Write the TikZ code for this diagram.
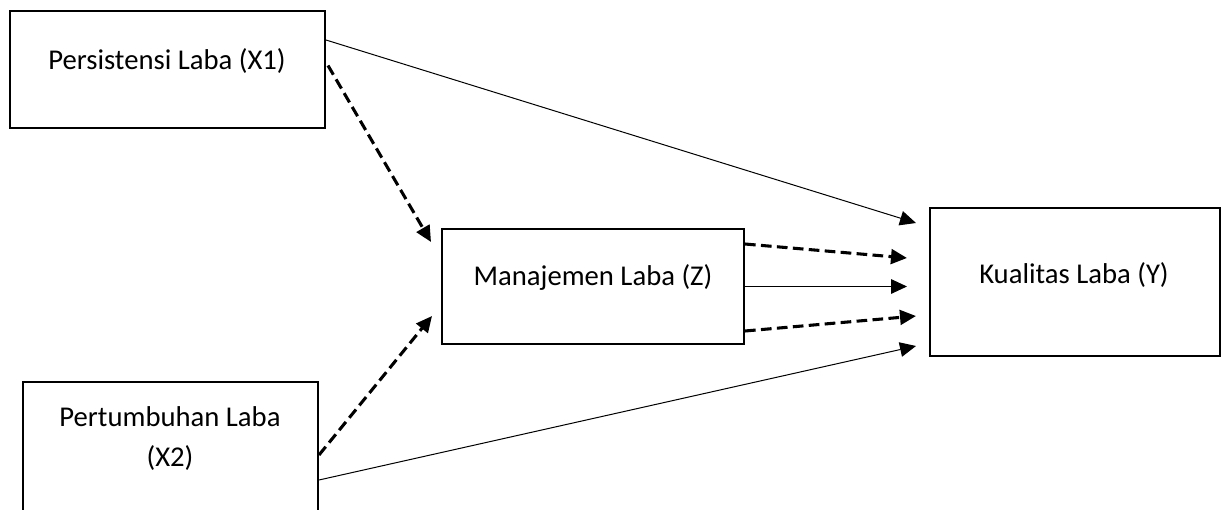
\documentclass[tikz,border=0pt]{standalone}
\usepackage{fontspec}
\setmainfont{Carlito}
\usetikzlibrary{calc,arrows.meta}
\tikzset{
  box/.style={draw=black, line width=1.5pt, fill=white, inner sep=0pt},
  lbl/.style={font=\fontsize{21.5}{30}\selectfont, inner sep=0pt, anchor=base, align=center},
  direct/.style={line width=0.75pt, -{Triangle[length=12pt,width=11pt]}},
  mediated/.style={line width=2.3pt, dash pattern=on 8pt off 4pt, -{Triangle[length=12pt,width=11pt]}},
}
\begin{document}
\begin{tikzpicture}[x=0.75pt, y=-0.75pt]
  \useasboundingbox (0,0) rectangle (1222,510);
  \clip (0,0) rectangle (1222,510);

  % variable boxes
  \node[box, minimum width=315*0.75pt, minimum height=117*0.75pt] (x1) at (167.5,69.5) {};
  \node[box, minimum width=295*0.75pt, minimum height=150*0.75pt] (x2) at (170.5,457) {};
  \node[box, minimum width=302*0.75pt, minimum height=115*0.75pt] (z) at (593,286.5) {};
  \node[box, minimum width=290*0.75pt, minimum height=148*0.75pt] (y) at (1075,282) {};

  % box captions (the two-line caption sits on its last baseline)
  \node[lbl] (x1t) at (167,70) {Persistensi Laba (X1)};
  \node[lbl] (x2t) at (170,466) {Pertumbuhan Laba\\(X2)};
  \node[lbl] (zt) at (593,285) {Manajemen Laba (Z)};
  \node[lbl] (yt) at (1074,283) {Kualitas Laba (Y)};

  % direct effects
  \draw[direct] ($(x1.north east)+(0,30)$) -- ($(y.north west)+(-13,16)$);
  \draw[direct] ($(x2.north east)+(0,99)$) -- ($(y.south west)+(-13,-11)$);
  \draw[direct] (z.east) -- ($(z.east -| y.west)+(-22,0)$);

  % effects through the mediator
  \draw[mediated] ($(x1.east)+(2,-4)$) -- ($(z.north west)+(-10,14)$);
  \draw[mediated] ($(x2.north east)+(0,74)$) -- ($(z.south west)+(-9,-29)$);
  \draw[mediated] ($(z.north east)+(0,16)$) -- ($(y.west)+(-22,-24)$);
  \draw[mediated] ($(z.south east)+(0,-14)$) -- ($(y.west)+(-13,34)$);
\end{tikzpicture}
\end{document}
